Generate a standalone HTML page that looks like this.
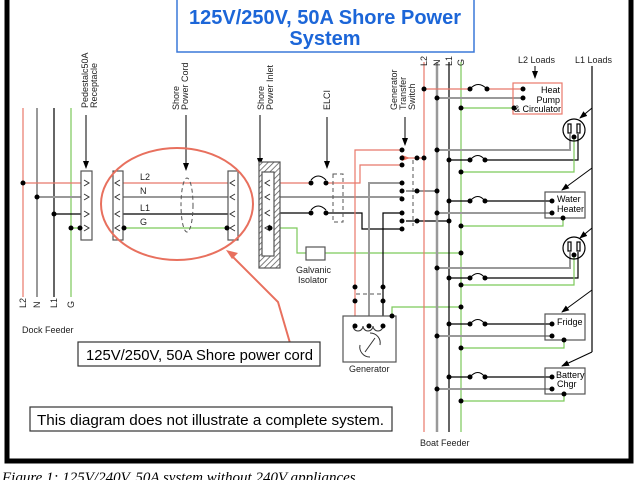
<!DOCTYPE html>
<html><head><meta charset="utf-8"><style>
html,body{margin:0;padding:0;background:#fff;width:640px;height:480px;overflow:hidden}
svg{display:block;font-family:"Liberation Sans",sans-serif}
</style></head><body>
<svg width="640" height="480" viewBox="0 0 640 480" xmlns="http://www.w3.org/2000/svg">
<defs>
<pattern id="h" width="4" height="4" patternUnits="userSpaceOnUse" patternTransform="rotate(45)"><rect width="4" height="4" fill="#fff"/><line x1="0" y1="0" x2="0" y2="4" stroke="#555" stroke-width="1.5"/></pattern>
<marker id="a" markerWidth="8" markerHeight="8" refX="7" refY="4" orient="auto"><path d="M0,1 L8,4 L0,7z" fill="#000"/></marker>
</defs>
<path d="M7,0 V461 H631 V0" fill="none" stroke="#000" stroke-width="5"/>
<text x="2" y="482" font-family="Liberation Serif" font-style="italic" font-size="15">Figure 1: 125V/240V, 50A system without 240V appliances</text>
<rect x="177" y="-2" width="297" height="54" fill="#fff" stroke="#3a78d8" stroke-width="1.5"/>
<text x="325" y="24" text-anchor="middle" font-size="20" font-weight="bold" fill="#1c66d8">125V/250V, 50A Shore Power</text>
<text x="325" y="45" text-anchor="middle" font-size="20" font-weight="bold" fill="#1c66d8">System</text>

<g stroke-width="1.2" fill="none">
<line x1="23" y1="108" x2="23" y2="297" stroke="#e8786a"/>
<line x1="37" y1="108" x2="37" y2="297" stroke="#999" stroke-width="2"/>
<line x1="54" y1="108" x2="54" y2="297" stroke="#000"/>
<line x1="71" y1="108" x2="71" y2="297" stroke="#7cc95a"/>
<line x1="23" y1="183" x2="88" y2="183" stroke="#e8786a"/>
<line x1="37" y1="197" x2="88" y2="197" stroke="#999" stroke-width="2"/>
<line x1="54" y1="214" x2="88" y2="214" stroke="#000"/>
<line x1="71" y1="228" x2="88" y2="228" stroke="#7cc95a"/>
<line x1="117" y1="183" x2="234" y2="183" stroke="#e8786a"/>
<line x1="117" y1="197" x2="234" y2="197" stroke="#999" stroke-width="2"/>
<line x1="117" y1="214" x2="234" y2="214" stroke="#000"/>
<line x1="117" y1="228" x2="234" y2="228" stroke="#7cc95a"/>
<line x1="266" y1="183" x2="311" y2="183" stroke="#e8786a"/>
<line x1="266" y1="197" x2="402" y2="197" stroke="#999" stroke-width="2"/>
<line x1="266" y1="213" x2="311" y2="213" stroke="#000"/>
<path d="M270,228 H297 V253 H461" stroke="#7cc95a"/>
<path d="M326,183 H360 V165 H402" stroke="#e8786a"/>
<path d="M326,213 H362 V229 H402" stroke="#000"/>
<path d="M355,326 V150 H402" stroke="#e8786a"/>
<path d="M369,326 V183 H402" stroke="#999" stroke-width="2"/>
<path d="M383,326 V213 H402" stroke="#000"/>
<line x1="406" y1="158" x2="425" y2="158" stroke="#e8786a"/>
<line x1="406" y1="191" x2="437" y2="191" stroke="#999" stroke-width="2"/>
<line x1="406" y1="221" x2="449" y2="221" stroke="#000"/>
<path d="M461,307 H392 V318" stroke="#7cc95a"/>
<path d="M392,318 C380,320 372,322 368,328" stroke="#7cc95a"/>
<line x1="424" y1="62" x2="424" y2="432" stroke="#e8786a"/>
<line x1="437" y1="62" x2="437" y2="432" stroke="#999" stroke-width="2.5"/>
<line x1="449" y1="62" x2="449" y2="432" stroke="#000"/>
<line x1="461" y1="62" x2="461" y2="432" stroke="#7cc95a"/>
<path d="M424,89 H470 M487,89 H523" stroke="#e8786a"/>
<line x1="437" y1="98" x2="523" y2="98" stroke="#999" stroke-width="2"/>
<line x1="461" y1="108" x2="514" y2="108" stroke="#7cc95a"/>
<path d="M437,150 H570 V134" stroke="#999" stroke-width="2"/>
<path d="M449,160 H470 M485,160 H578 V134" stroke="#000"/>
<path d="M461,172 H574 V136" stroke="#7cc95a"/>
<path d="M449,201 H470 M485,201 H552" stroke="#000"/>
<line x1="437" y1="213" x2="552" y2="213" stroke="#999" stroke-width="2"/>
<path d="M461,226 H563 V218" stroke="#7cc95a"/>
<path d="M437,268 H570 V252" stroke="#999" stroke-width="2"/>
<path d="M449,278 H470 M485,278 H578 V252" stroke="#000"/>
<path d="M461,285 H574 V254" stroke="#7cc95a"/>
<path d="M449,324 H470 M485,324 H552" stroke="#000"/>
<line x1="437" y1="336" x2="552" y2="336" stroke="#999" stroke-width="2"/>
<path d="M461,348 H564 V340" stroke="#7cc95a"/>
<path d="M449,377 H470 M485,377 H552" stroke="#000"/>
<line x1="437" y1="389" x2="552" y2="389" stroke="#999" stroke-width="2"/>
<path d="M461,401 H564 V394" stroke="#7cc95a"/>
<g stroke="#000" stroke-width="1">
<path d="M470,89 Q478,80 487,89"/><path d="M470,160 Q478,151 485,160"/><path d="M470,201 Q478,192 485,201"/><path d="M470,278 Q478,269 485,278"/><path d="M470,324 Q478,315 485,324"/><path d="M470,377 Q478,368 485,377"/>
<path d="M311,180 Q318,172 326,180"/><path d="M311,210 Q318,202 326,210"/>
</g>
<line x1="592" y1="66" x2="592" y2="352" stroke="#000"/>
<g stroke="#000" stroke-width="1">
<path d="M592,108 L580,118" marker-end="url(#a)"/><path d="M592,168 L562,190" marker-end="url(#a)"/><path d="M592,228 L580,238" marker-end="url(#a)"/><path d="M592,290 L562,312" marker-end="url(#a)"/><path d="M592,352 L562,366" marker-end="url(#a)"/>
<path d="M535,66 V78" marker-end="url(#a)"/>
<path d="M260,115 V165" marker-end="url(#a)"/><path d="M186,115 V170" marker-end="url(#a)"/><path d="M86,115 V168" marker-end="url(#a)"/><path d="M327,117 V168" marker-end="url(#a)"/><path d="M405,117 V145" marker-end="url(#a)"/>
</g>
</g>
<rect x="513" y="83" width="49" height="31" fill="none" stroke="#e8786a" stroke-width="1.2"/>
<g font-size="9" text-anchor="end" fill="#000"><text x="560" y="93">Heat</text><text x="560" y="103">Pump</text><text x="561" y="112">&amp; Circulator</text></g>
<g fill="none" stroke="#555" stroke-width="1.2">
<rect x="545" y="192" width="40" height="26"/><rect x="545" y="314" width="40" height="26"/><rect x="545" y="368" width="40" height="26"/>
</g>
<g font-size="9" fill="#000"><text x="557" y="202">Water</text><text x="557" y="212">Heater</text><text x="557" y="325">Fridge</text><text x="556" y="378">Battery</text><text x="557" y="387">Chgr</text></g>
<g fill="none" stroke="#000" stroke-width="1.2"><circle cx="574" cy="130" r="11"/><circle cx="574" cy="248" r="11"/>
<rect x="568" y="124" width="3" height="9"/><rect x="577" y="124" width="3" height="9"/><rect x="568" y="242" width="3" height="9"/><rect x="577" y="242" width="3" height="9"/></g>
<g fill="#fff" stroke="#555" stroke-width="1.2">
<rect x="81" y="171" width="11" height="69"/><rect x="113" y="171" width="10" height="69"/><rect x="228" y="171" width="10" height="69"/>
<rect x="259" y="162" width="21" height="106" fill="url(#h)"/><rect x="262" y="172" width="12" height="84"/>
<rect x="306" y="247" width="19" height="13"/>
<rect x="343" y="316" width="53" height="46"/>
</g>
<g fill="none" stroke="#333" stroke-width="1">
<path d="M84,180 l5,3 l-5,3 M84,194 l5,3 l-5,3 M84,211 l5,3 l-5,3 M84,225 l5,3 l-5,3"/>
<path d="M120,180 l-5,3 l5,3 M120,194 l-5,3 l5,3 M120,211 l-5,3 l5,3 M120,225 l-5,3 l5,3"/>
<path d="M235,180 l-5,3 l5,3 M235,194 l-5,3 l5,3 M235,211 l-5,3 l5,3 M235,225 l-5,3 l5,3"/>
<path d="M270,180 l-5,3 l5,3 M270,194 l-5,3 l5,3 M270,210 l-5,3 l5,3 M270,225 l-5,3 l5,3"/>
<path d="M353,326 a5,5 0 0 0 10,0 a5,5 0 0 0 10,0 a5,5 0 0 0 10,0"/>
<path d="M360,345 a10,10 0 0 0 10,12 M380,345 a10,10 0 0 0 -10,-12 M365,352 L375,338"/>
</g>
<g fill="none" stroke="#555" stroke-width="1" stroke-dasharray="4,3">
<ellipse cx="187" cy="205" rx="6" ry="27"/>
<rect x="333" y="174" width="10" height="48"/>
<line x1="413" y1="160" x2="413" y2="226"/>
<line x1="356" y1="294" x2="383" y2="294"/>
</g>
<ellipse cx="177" cy="204" rx="76" ry="56" fill="none" stroke="#e8705e" stroke-width="2"/>
<path d="M290,343 L278,302 L230,254" fill="none" stroke="#e8705e" stroke-width="2"/>
<path d="M226,250 l12,3 l-6,6z" fill="#e8705e"/>
<path d="M410,158 l-8,-3 v6z" fill="#e8705e"/>
<g fill="#000">
<circle cx="23" cy="183" r="2.5"/><circle cx="37" cy="197" r="2.5"/><circle cx="54" cy="214" r="2.5"/><circle cx="71" cy="228" r="2.5"/><circle cx="80" cy="228" r="2.5"/>
<circle cx="124" cy="228" r="2.5"/><circle cx="227" cy="228" r="2.5"/><circle cx="270" cy="228" r="2.5"/>
<circle cx="311" cy="183" r="2.5"/><circle cx="326" cy="183" r="2.5"/><circle cx="311" cy="213" r="2.5"/><circle cx="326" cy="213" r="2.5"/>
<circle cx="402" cy="150" r="2.5"/><circle cx="402" cy="158" r="2.5"/><circle cx="402" cy="165" r="2.5"/><circle cx="417" cy="158" r="2.5"/><circle cx="424" cy="158" r="2.5"/>
<circle cx="402" cy="183" r="2.5"/><circle cx="402" cy="191" r="2.5"/><circle cx="402" cy="199" r="2.5"/><circle cx="417" cy="191" r="2.5"/><circle cx="437" cy="191" r="2.5"/>
<circle cx="402" cy="213" r="2.5"/><circle cx="402" cy="221" r="2.5"/><circle cx="402" cy="229" r="2.5"/><circle cx="417" cy="221" r="2.5"/><circle cx="449" cy="221" r="2.5"/>
<circle cx="424" cy="89" r="2.5"/><circle cx="470" cy="89" r="2.5"/><circle cx="487" cy="89" r="2.5"/><circle cx="523" cy="89" r="2.5"/><circle cx="437" cy="98" r="2.5"/><circle cx="523" cy="98" r="2.5"/><circle cx="461" cy="108" r="2.5"/><circle cx="514" cy="108" r="2.5"/>
<circle cx="437" cy="150" r="2.5"/><circle cx="449" cy="160" r="2.5"/><circle cx="470" cy="160" r="2.5"/><circle cx="485" cy="160" r="2.5"/><circle cx="461" cy="172" r="2.5"/><circle cx="574" cy="137" r="2.5"/>
<circle cx="449" cy="201" r="2.5"/><circle cx="470" cy="201" r="2.5"/><circle cx="485" cy="201" r="2.5"/><circle cx="552" cy="201" r="2.5"/><circle cx="437" cy="213" r="2.5"/><circle cx="552" cy="213" r="2.5"/><circle cx="461" cy="226" r="2.5"/><circle cx="563" cy="218" r="2.5"/>
<circle cx="461" cy="253" r="2.5"/><circle cx="437" cy="268" r="2.5"/><circle cx="449" cy="278" r="2.5"/><circle cx="470" cy="278" r="2.5"/><circle cx="485" cy="278" r="2.5"/><circle cx="461" cy="285" r="2.5"/><circle cx="574" cy="255" r="2.5"/>
<circle cx="461" cy="307" r="2.5"/><circle cx="449" cy="324" r="2.5"/><circle cx="470" cy="324" r="2.5"/><circle cx="485" cy="324" r="2.5"/><circle cx="552" cy="324" r="2.5"/><circle cx="437" cy="336" r="2.5"/><circle cx="552" cy="336" r="2.5"/><circle cx="461" cy="348" r="2.5"/><circle cx="564" cy="340" r="2.5"/>
<circle cx="449" cy="377" r="2.5"/><circle cx="470" cy="377" r="2.5"/><circle cx="485" cy="377" r="2.5"/><circle cx="552" cy="377" r="2.5"/><circle cx="437" cy="389" r="2.5"/><circle cx="552" cy="389" r="2.5"/><circle cx="461" cy="401" r="2.5"/><circle cx="564" cy="394" r="2.5"/>
<circle cx="355" cy="287" r="2.5"/><circle cx="355" cy="301" r="2.5"/><circle cx="383" cy="287" r="2.5"/><circle cx="383" cy="301" r="2.5"/>
<circle cx="355" cy="326" r="2.5"/><circle cx="369" cy="326" r="2.5"/><circle cx="383" cy="326" r="2.5"/><circle cx="392" cy="316" r="2.5"/>
</g>
<g font-size="9" fill="#222">
<text x="140" y="180">L2</text><text x="140" y="194">N</text><text x="140" y="211">L1</text><text x="140" y="225">G</text>
<text x="22" y="333">Dock Feeder</text>
<text x="296" y="273">Galvanic</text><text x="298" y="283">Isolator</text>
<text x="349" y="372">Generator</text>
<text x="420" y="446">Boat Feeder</text>
<text x="518" y="63">L2 Loads</text><text x="575" y="63">L1 Loads</text>
<text transform="translate(88,108) rotate(-90)">Pedestalc50A</text><text transform="translate(97,108) rotate(-90)">Receptacle</text>
<text transform="translate(179,110) rotate(-90)">Shore</text><text transform="translate(188,110) rotate(-90)">Power Cord</text>
<text transform="translate(264,110) rotate(-90)">Shore</text><text transform="translate(273,110) rotate(-90)">Power Inlet</text>
<text transform="translate(330,110) rotate(-90)">ELCI</text>
<text transform="translate(397,110) rotate(-90)">Generator</text><text transform="translate(406,110) rotate(-90)">Transfer</text><text transform="translate(415,110) rotate(-90)">Switch</text>
<text transform="translate(427,66) rotate(-90)">L2</text><text transform="translate(440,66) rotate(-90)">N</text><text transform="translate(452,66) rotate(-90)">L1</text><text transform="translate(464,66) rotate(-90)">G</text>
<text transform="translate(26,308) rotate(-90)">L2</text><text transform="translate(40,308) rotate(-90)">N</text><text transform="translate(57,308) rotate(-90)">L1</text><text transform="translate(74,308) rotate(-90)">G</text>
</g>
<rect x="78" y="342" width="242" height="24" fill="#fff" stroke="#333" stroke-width="1.2"/>
<text x="86" y="360" font-size="15" textLength="227" lengthAdjust="spacingAndGlyphs">125V/250V, 50A Shore power cord</text>
<rect x="30" y="407" width="362" height="24" fill="#fff" stroke="#333" stroke-width="1.2"/>
<text x="37" y="425" font-size="15" textLength="347" lengthAdjust="spacingAndGlyphs">This diagram does not illustrate a complete system.</text>
</svg>
</body></html>
